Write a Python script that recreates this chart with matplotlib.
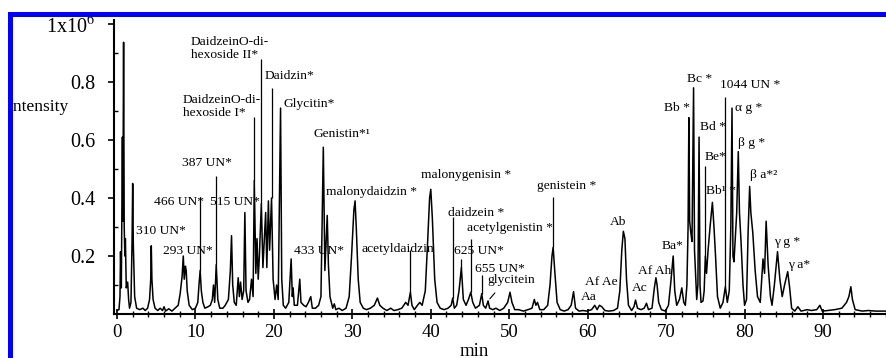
import numpy as np
import matplotlib
matplotlib.use("Agg")
import matplotlib.pyplot as plt
from matplotlib.patches import Rectangle
from matplotlib.ticker import MultipleLocator, FixedLocator

plt.rcParams['font.family'] = ['Liberation Serif', 'DejaVu Serif']
plt.rcParams['mathtext.fontset'] = 'stix'

# trace, retention time (min) / intensity (x10^6), by region
rt_a = [0.0, 0.25, 0.38, 0.45, 0.55, 0.69, 0.75, 0.84, 0.92, 1.0, 1.07, 1.18, 1.36, 1.48, 1.6, 1.78, 1.92, 2.0, 2.08, 2.25, 2.5, 2.9,
        3.3, 3.6, 3.9, 4.15, 4.3, 4.37, 4.45, 4.6, 4.85, 5.2, 5.5, 5.8, 6.0, 6.2, 6.6, 7.0, 7.4, 7.8, 8.05, 8.3, 8.45, 8.57, 8.72, 8.82, 8.95, 9.2, 9.6, 10.0]
int_a = [0.012, 0.015, 0.06, 0.215, 0.09, 0.61, 0.32, 0.937, 0.30, 0.20, 0.26, 0.09, 0.11, 0.05, 0.02, 0.04, 0.25, 0.45, 0.24, 0.06, 0.02, 0.015,
         0.02, 0.012, 0.02, 0.05, 0.12, 0.235, 0.12, 0.05, 0.02, 0.012, 0.02, 0.012, 0.025, 0.01, 0.018, 0.01, 0.02, 0.03, 0.07, 0.13, 0.20, 0.12, 0.165, 0.15, 0.08, 0.03, 0.015, 0.02]

rt_b = [10.3, 10.45, 10.6, 10.75, 10.95, 11.2, 11.6, 11.9, 12.15, 12.3, 12.45, 12.65, 12.85, 13.1, 13.5, 13.8, 14.2, 14.45, 14.6, 14.75, 14.95, 15.2, 15.45, 15.6, 15.75, 15.95, 16.15, 16.3, 16.45, 16.7,
        16.9, 17.15, 17.35, 17.5, 17.7, 17.85, 18.0, 18.15, 18.4, 18.6, 18.95, 19.1, 19.3, 19.45, 19.7, 19.9, 20.15, 20.35, 20.55, 20.85, 21.0, 21.2]
int_b = [0.04, 0.10, 0.15, 0.08, 0.04, 0.02, 0.025, 0.03, 0.05, 0.10, 0.04, 0.17, 0.05, 0.02, 0.02, 0.03, 0.05, 0.15, 0.27, 0.10, 0.04, 0.03, 0.125, 0.06, 0.11, 0.05, 0.08, 0.35, 0.08, 0.04,
         0.05, 0.12, 0.06, 0.46, 0.14, 0.26, 0.12, 0.20, 0.38, 0.16, 0.35, 0.16, 0.39, 0.22, 0.40, 0.12, 0.05, 0.10, 0.05, 0.71, 0.12, 0.03]

rt_c = [21.5, 21.9, 22.2, 22.35, 22.45, 22.6, 23.0, 23.3, 23.45, 23.8, 24.1, 24.4, 24.7, 24.9, 25.3, 25.7, 26.0, 26.3, 26.5, 26.8, 26.95, 27.15, 27.5, 27.7, 27.9, 28.3, 28.7, 29.2, 29.6, 29.9,
        30.2, 30.35, 30.5, 30.75, 31.0, 31.4, 31.8, 32.3, 32.8, 33.2, 33.5, 33.9, 34.4, 34.9, 35.3, 35.8, 36.3, 36.8, 37.1, 37.4, 37.6, 37.9, 38.3, 38.6, 38.9, 39.3, 39.6, 39.85, 40.0, 40.2, 40.5, 40.8]
int_c = [0.02, 0.04, 0.19, 0.06, 0.09, 0.03, 0.03, 0.12, 0.04, 0.03, 0.025, 0.04, 0.06, 0.02, 0.02, 0.03, 0.06, 0.575, 0.15, 0.34, 0.17, 0.06, 0.02, 0.035, 0.015, 0.02, 0.012, 0.02, 0.06, 0.20,
         0.36, 0.39, 0.30, 0.12, 0.04, 0.02, 0.015, 0.02, 0.03, 0.055, 0.03, 0.02, 0.012, 0.02, 0.012, 0.015, 0.02, 0.04, 0.03, 0.075, 0.03, 0.015, 0.03, 0.04, 0.03, 0.08, 0.25, 0.40, 0.43, 0.33, 0.12, 0.04]

rt_d = [41.2, 41.7, 42.2, 42.6, 42.8, 43.0, 43.3, 43.6, 43.9, 44.15, 44.5, 44.8, 45.1, 45.35, 45.7, 46.2, 46.5, 46.7, 47.0, 47.3, 47.5, 47.9, 48.3, 48.8, 49.3, 49.8, 50.1, 50.35, 50.7,
        51.2, 51.8, 52.4, 52.9, 53.2, 53.4, 53.6, 53.9, 54.4, 54.9, 55.2, 55.45, 55.6, 55.8, 56.1, 56.5, 57.0, 57.5, 57.9, 58.2, 58.45, 58.9, 59.4, 59.9]
int_d = [0.02, 0.015, 0.02, 0.03, 0.055, 0.02, 0.03, 0.08, 0.16, 0.05, 0.03, 0.05, 0.075, 0.04, 0.02, 0.03, 0.07, 0.03, 0.02, 0.045, 0.02, 0.015, 0.02, 0.012, 0.02, 0.04, 0.075, 0.04, 0.015,
         0.015, 0.01, 0.015, 0.02, 0.05, 0.03, 0.04, 0.015, 0.015, 0.03, 0.10, 0.20, 0.23, 0.15, 0.04, 0.015, 0.01, 0.015, 0.03, 0.077, 0.02, 0.01, 0.012, 0.01]

rt_e = [60.5, 60.9, 61.2, 61.5, 61.8, 62.2, 62.7, 63.3, 63.8, 64.1, 64.35, 64.55, 64.75, 64.95, 65.2, 65.6, 65.9, 66.1, 66.35, 66.8, 67.2, 67.5, 67.75, 68.2, 68.5, 68.7, 68.85, 69.05, 69.4, 69.9,
        70.3, 70.6, 70.9, 71.1, 71.35, 71.7, 72.0, 72.25, 72.45]
int_e = [0.015, 0.03, 0.015, 0.03, 0.025, 0.012, 0.01, 0.012, 0.02, 0.08, 0.22, 0.285, 0.26, 0.12, 0.03, 0.012, 0.025, 0.048, 0.02, 0.015, 0.02, 0.037, 0.015, 0.02, 0.09, 0.125, 0.10, 0.04, 0.015, 0.01,
         0.03, 0.11, 0.20, 0.08, 0.03, 0.05, 0.09, 0.04, 0.03]

rt_f = [72.65, 72.8, 72.9, 73.0, 73.15, 73.3, 73.5, 73.62, 73.75, 73.9, 74.05, 74.2, 74.32, 74.45, 74.7, 74.85, 75.0, 75.15, 75.35, 75.6, 75.9, 76.1, 76.3, 76.55, 76.9,
        77.25, 77.55, 77.8, 78.05, 78.25, 78.4, 78.52, 78.65, 78.85, 79.0, 79.2, 79.35, 79.55, 79.8, 80.0]
int_f = [0.10, 0.30, 0.677, 0.32, 0.28, 0.25, 0.78, 0.22, 0.14, 0.05, 0.10, 0.61, 0.10, 0.04, 0.045, 0.08, 0.20, 0.14, 0.22, 0.30, 0.385, 0.30, 0.20, 0.06, 0.02,
         0.04, 0.094, 0.04, 0.08, 0.30, 0.71, 0.20, 0.18, 0.28, 0.35, 0.56, 0.35, 0.25, 0.10, 0.03]

rt_g = [80.25, 80.45, 80.65, 80.8, 81.05, 81.35, 81.65, 82.0, 82.35, 82.55, 82.75, 83.0, 83.3, 83.5, 83.8, 84.2, 84.5, 84.8, 85.1, 85.5, 85.75, 86.0, 86.4, 86.8, 87.2,
        88.0, 88.5, 89.2, 89.6, 89.9, 90.6, 91.5, 92.4, 93.0, 93.3, 93.55, 93.75, 94.1, 95.0, 95.8, 96.7, 98.1]
int_g = [0.05, 0.28, 0.44, 0.35, 0.28, 0.15, 0.06, 0.04, 0.19, 0.14, 0.32, 0.17, 0.06, 0.03, 0.10, 0.215, 0.12, 0.06, 0.10, 0.146, 0.09, 0.02, 0.01, 0.025, 0.01,
         0.015, 0.012, 0.015, 0.03, 0.01, 0.012, 0.015, 0.02, 0.04, 0.06, 0.094, 0.05, 0.015, 0.01, 0.012, 0.01, 0.01]

rt = np.concatenate([rt_a, rt_b, rt_c, rt_d, rt_e, rt_f, rt_g])
intensity = np.concatenate([int_a, int_b, int_c, int_d, int_e, int_f, int_g])

# peak names and where they sit (min, intensity)
label_text = ["DaidzeinO-di-\nhexoside II*", "DaidzeinO-di-\nhexoside I*", "387 UN*", "466 UN*", "515 UN*", "310 UN*", "293 UN*",
              "Daidzin*", "Glycitin*", "Genistin*\u00b9", "malonydaidzin *", "433 UN*", "acetyldaidzin", "malonygenisin *",
              "daidzein *", "acetylgenistin *", "625 UN*", "655 UN*", "glycitein", "genistein *",
              "Aa", "Af Ae", "Ab", "Ac", "Af Ah", "Ba*", "Bb *", "Bc *", "1044 UN *", "Bd *", "\u03b1 g *", "\u03b2 g *",
              "Be*", "\u03b2 a*\u00b2", "Bb\u00b9 *", "\u03b3 g *", "\u03b3 a*"]
label_x = [9.4, 8.4, 8.27, 4.78, 11.8, 2.37, 5.87,
           18.8, 21.2, 25.1, 26.6, 22.5, 31.2, 38.7,
           42.2, 44.6, 43.0, 45.6, 47.2, 53.5,
           59.1, 59.6, 62.85, 65.6, 66.4, 69.4, 69.7, 72.6, 76.9, 74.3, 78.8, 79.2,
           74.9, 80.7, 75.1, 83.7, 85.5]
label_y = [0.917, 0.717, 0.52, 0.385, 0.385, 0.285, 0.216,
           0.82, 0.723, 0.62, 0.42, 0.218, 0.225, 0.48,
           0.35, 0.296, 0.218, 0.156, 0.118, 0.443,
           0.06, 0.11, 0.316, 0.089, 0.149, 0.235, 0.71, 0.81, 0.79, 0.645, 0.71, 0.59,
           0.54, 0.48, 0.423, 0.25, 0.17]

# leader lines from peak apex up to its label
leader_rt = [17.5, 18.4, 19.7, 10.6, 12.65, 37.4, 42.8, 43.9, 45.1, 46.5, 55.6, 75.0, 77.55]
leader_top = [0.68, 0.88, 0.78, 0.405, 0.475, 0.22, 0.335, 0.19, 0.26, 0.135, 0.405, 0.51, 0.75]

fig = plt.figure(figsize=(8.86, 3.58), dpi=100)
ax = fig.add_axes([114.3 / 886, 44 / 358, 771.7 / 886, 294 / 358])

ax.plot(rt, intensity, color='black', lw=1.1)
ax.vlines(leader_rt, np.interp(leader_rt, rt, intensity), leader_top, color='black', lw=0.9)

for txt, x, y in zip(label_text, label_x, label_y):
    ax.text(x, y, txt, fontsize=9.7, ha='left', va='center', linespacing=1.1)

ax.annotate('', xy=(47.3, 0.045), xytext=(48.4, 0.08),
            arrowprops=dict(arrowstyle='-', color='black', lw=0.8))

ax.set_xlim(-0.344, 98.03)
ax.set_ylim(0, 1.0138)
ax.spines[['top', 'right']].set_visible(False)
for s in ['left', 'bottom']:
    ax.spines[s].set_linewidth(1.5)

ax.xaxis.set_major_locator(MultipleLocator(10))
ax.xaxis.set_minor_locator(MultipleLocator(2))
ax.yaxis.set_major_locator(FixedLocator([0.2, 0.4, 0.6, 0.8, 1.0]))
ax.set_yticklabels(['0.2', '0.4', '0.6', '0.8', '1x10$^6$'])
ax.yaxis.set_minor_locator(FixedLocator([0.1, 0.3, 0.5, 0.7, 0.9]))
ax.tick_params(axis='x', which='major', direction='inout', length=7, width=1.2, labelsize=13.5, pad=4)
ax.tick_params(axis='x', which='minor', direction='inout', length=5, width=1)
ax.tick_params(axis='y', which='major', direction='out', length=4.5, width=1.2, labelsize=14.5, pad=9)
ax.tick_params(axis='y', which='minor', direction='in', length=3, width=1)

fig.text(7.3 / 886, 1 - 107 / 358, 'Intensity', fontsize=12.5, ha='left', va='center')
fig.text(474 / 886, 2.5 / 358, 'min', fontsize=13.5, ha='center', va='baseline')

# blue frame around the figure (only top and left edges show)
fig.add_artist(Rectangle((9.5 / 886, -0.2), 1.5, 1 - 13.5 / 358 + 0.2, transform=fig.transFigure,
                         fill=False, edgecolor='#0000ff', linewidth=3.6, zorder=10, clip_on=False))

fig.savefig('out.png', dpi=100)
